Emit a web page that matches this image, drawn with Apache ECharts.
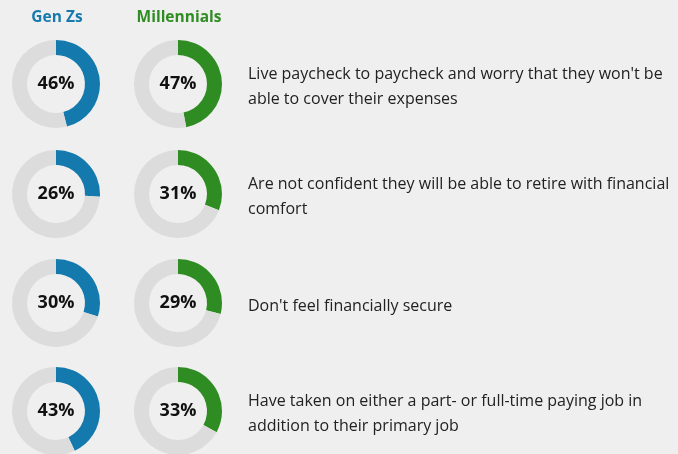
<!DOCTYPE html>
<html>
<head>
<meta charset="utf-8">
<script src="https://cdn.jsdelivr.net/npm/echarts@6/dist/echarts.min.js"></script>
<style>
  html, body { margin: 0; padding: 0; background: #efefef; }
  #chart { width: 678px; height: 454px; }
</style>
</head>
<body>
<div id="chart"></div>
<script>
// Survey results: share of respondents per generation
const groups = ['Gen Zs', 'Millennials'];
const genZ = [46, 26, 30, 43];
const millennials = [47, 31, 29, 33];
const statements = [
  "Live paycheck to paycheck and worry that they won't be\nable to cover their expenses",
  "Are not confident they will be able to retire with financial\ncomfort",
  "Don't feel financially secure",
  "Have taken on either a part- or full-time paying job in\naddition to their primary job"
];

const colors = ['#1479ad', '#2f8c22'];
const trackColor = '#dcdcdc';
const colX = [56, 178];
const rowY = [84, 194, 303, 411];
const font = '"Open Sans", "Noto Sans", sans-serif';

const seriesValues = [genZ, millennials];
const series = [];
seriesValues.forEach((vals, g) => {
  vals.forEach((v, r) => {
    series.push({
      type: 'pie',
      center: [colX[g], rowY[r]],
      radius: [29, 44],
      startAngle: 90,
      clockwise: true,
      silent: true,
      avoidLabelOverlap: false,
      labelLine: { show: false },
      data: [
        {
          value: v,
          itemStyle: { color: colors[g] },
          label: {
            show: true,
            position: 'center',
            formatter: v + '%',
            fontFamily: font,
            fontWeight: 'bold',
            fontSize: 18,
            color: '#111'
          }
        },
        {
          value: 100 - v,
          itemStyle: { color: trackColor },
          label: { show: false }
        }
      ]
    });
  });
});

const graphics = [];
groups.forEach((name, g) => {
  graphics.push({
    type: 'text',
    x: colX[g] + 1,
    y: 18,
    style: {
      text: name,
      fill: colors[g],
      font: 'bold 15.5px ' + font,
      align: 'center',
      verticalAlign: 'middle'
    }
  });
});
statements.forEach((s, r) => {
  graphics.push({
    type: 'text',
    x: 248,
    y: rowY[r] + 3,
    style: {
      text: s,
      fill: '#222',
      font: '16px ' + font,
      lineHeight: 25,
      align: 'left',
      verticalAlign: 'middle'
    }
  });
});

const chart = echarts.init(document.getElementById('chart'));
chart.setOption({
  backgroundColor: '#efefef',
  animation: false,
  series: series,
  graphic: graphics
});
</script>
</body>
</html>
